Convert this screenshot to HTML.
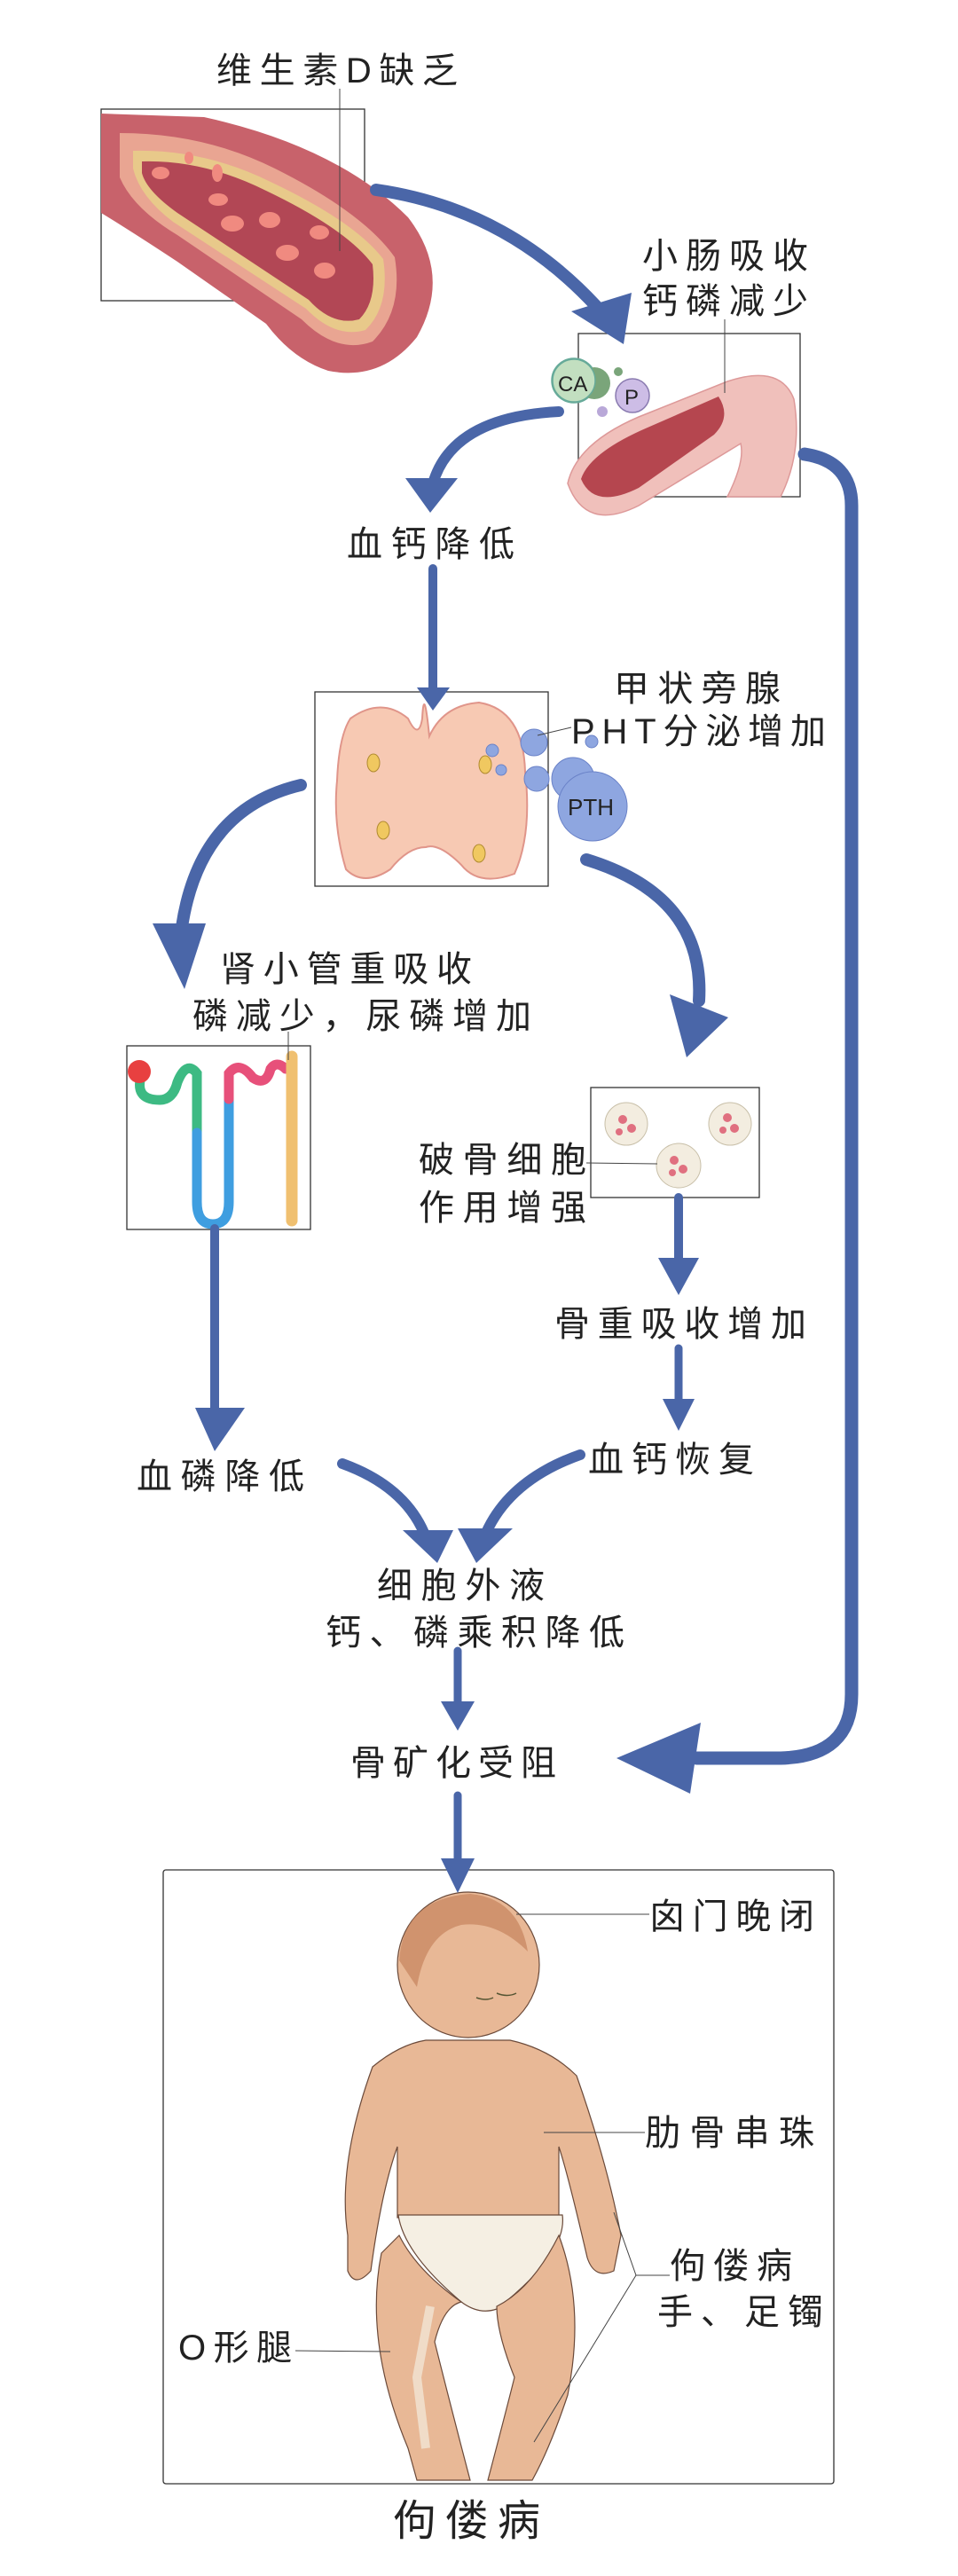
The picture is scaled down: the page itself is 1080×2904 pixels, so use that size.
<!DOCTYPE html>
<html><head><meta charset="utf-8"><style>
html,body{margin:0;padding:0;background:#fff}
svg{display:block}
text{font-family:"Liberation Sans","Noto Sans CJK SC",sans-serif;fill:#222}
</style></head><body>
<svg width="1080" height="2904" viewBox="0 0 1080 2904" xmlns="http://www.w3.org/2000/svg">
<rect width="1080" height="2904" fill="#fff"/>
<g fill="none" stroke="#333" stroke-width="1.3">
<rect x="114" y="123" width="297" height="216"/>
<rect x="652" y="376" width="250" height="184"/>
<rect x="355" y="780" width="263" height="219"/>
<rect x="143" y="1179" width="207" height="207"/>
<rect x="666" y="1226" width="190" height="124"/>
<rect x="184" y="2108" width="756" height="692" rx="3"/>
</g>
<!-- vessel -->
<path d="M114,128 L230,132 Q380,165 460,245 Q510,310 470,380 Q430,430 370,418 Q330,405 300,365 L200,295 Q150,262 114,240 Z" fill="#c8626b"/>
<path d="M135,150 Q230,150 310,190 Q410,240 445,290 Q455,350 420,385 Q380,400 340,360 L200,265 Q150,235 135,200 Z" fill="#e9a592"/>
<path d="M150,170 Q230,168 305,205 Q400,250 432,292 Q440,345 412,372 Q378,382 345,348 L195,250 Q158,222 150,190 Z" fill="#e8c98a"/>
<path d="M160,182 Q230,180 300,215 Q390,258 420,298 Q425,340 405,360 Q375,368 348,338 L200,240 Q165,215 160,195 Z" fill="#b24755"/>
<g fill="#f08a80"><ellipse cx="181" cy="195" rx="10" ry="7"/><ellipse cx="246" cy="225" rx="11" ry="7"/><ellipse cx="262" cy="252" rx="13" ry="9"/><ellipse cx="304" cy="248" rx="12" ry="9"/><ellipse cx="324" cy="285" rx="13" ry="9"/><ellipse cx="360" cy="262" rx="11" ry="8"/><ellipse cx="366" cy="305" rx="12" ry="9"/><ellipse cx="245" cy="195" rx="6" ry="10"/><ellipse cx="213" cy="178" rx="5" ry="7"/></g>
<!-- intestine -->
<path d="M640,545 Q650,500 720,470 L820,430 Q880,410 895,450 Q905,510 880,560 L820,560 Q840,520 835,500 L720,570 Q660,600 640,545Z" fill="#f0c0bb" stroke="#d99" stroke-width="1.5"/>
<path d="M655,540 Q665,510 730,482 L810,447 Q825,470 805,490 L720,550 Q670,575 655,540Z" fill="#b5464f"/>
<circle cx="647" cy="429" r="25" fill="#b9d8b5" stroke="#6a9" stroke-width="1.5"/>
<circle cx="670" cy="432" r="18" fill="#7aa57a"/>
<circle cx="647" cy="429" r="24" fill="#c2dfc0" stroke="#6a9" stroke-width="1.5"/>
<text x="629" y="441" font-size="24" fill="#333">CA</text>
<circle cx="713" cy="446" r="19" fill="#cdbde6" stroke="#8a7bb0" stroke-width="1.5"/>
<text x="704" y="456" font-size="24">P</text>
<circle cx="697" cy="419" r="5" fill="#7aa57a"/><circle cx="679" cy="464" r="6" fill="#b9a8d8"/>
<!-- thyroid -->
<path d="M395,810 Q430,785 460,810 Q472,835 476,810 Q478,770 484,830 Q500,795 540,792 Q590,800 592,870 Q600,940 580,985 Q540,1000 520,975 Q495,950 480,955 Q460,955 440,980 Q410,1000 390,980 Q375,930 380,880 Q382,830 395,810Z" fill="#f7c9b3" stroke="#e0958a" stroke-width="2"/>
<g fill="#f0c860" stroke="#b08a30"><ellipse cx="421" cy="860" rx="7" ry="10"/><ellipse cx="547" cy="862" rx="7" ry="10"/><ellipse cx="432" cy="936" rx="7" ry="10"/><ellipse cx="540" cy="962" rx="7" ry="10"/></g>
<g fill="#8ea6e0" stroke="#6a82c8"><circle cx="602" cy="837" r="15"/><circle cx="605" cy="878" r="14"/><circle cx="555" cy="846" r="7"/><circle cx="565" cy="868" r="6"/><circle cx="646" cy="878" r="24"/><circle cx="668" cy="909" r="39"/><circle cx="667" cy="836" r="7"/></g>
<text x="640" y="919" font-size="26">PTH</text>
<!-- kidney tubule -->
<g fill="none" stroke-linecap="round">
<path d="M160,1210 Q150,1240 180,1240 Q195,1240 200,1220 Q210,1195 222,1210 L222,1277" stroke="#3dba83" stroke-width="11"/>
<path d="M222,1277 L222,1355 Q222,1380 240,1380 Q258,1380 258,1355 L258,1239" stroke="#3f9ee0" stroke-width="11"/>
<path d="M258,1239 L258,1210 Q270,1195 285,1215 Q300,1225 305,1205 Q312,1195 322,1205" stroke="#e7507a" stroke-width="11"/>
<path d="M329,1191 L329,1376" stroke="#f0c070" stroke-width="13"/>
</g>
<circle cx="157" cy="1208" r="13" fill="#e84040"/>
<!-- osteoclasts -->
<g fill="#f3ede0" stroke="#c8bfa8"><circle cx="706" cy="1267" r="24"/><circle cx="823" cy="1267" r="24"/><circle cx="765" cy="1314" r="25"/></g>
<g fill="#e07080"><circle cx="702" cy="1262" r="5"/><circle cx="712" cy="1272" r="5"/><circle cx="698" cy="1276" r="4"/><circle cx="820" cy="1260" r="5"/><circle cx="828" cy="1272" r="5"/><circle cx="815" cy="1274" r="4"/><circle cx="760" cy="1308" r="5"/><circle cx="770" cy="1318" r="5"/><circle cx="758" cy="1322" r="4"/></g>
<!-- baby -->
<g stroke="#6b4a3a" stroke-width="1.2">
<path d="M392,2520 Q380,2440 420,2330 Q450,2305 480,2300 L575,2300 Q620,2310 650,2340 Q685,2440 700,2520 L692,2560 Q670,2570 662,2545 Q640,2450 630,2420 L630,2500 L448,2500 L448,2420 Q430,2470 418,2560 Q400,2580 392,2560Z" fill="#e8b896"/>
<path d="M449,2497 L634,2497 Q640,2540 560,2603 Q540,2610 520,2595 Q455,2540 449,2497Z" fill="#f5efe3"/>
<path d="M430,2540 Q410,2640 460,2760 L470,2796 L530,2796 Q510,2720 490,2640 Q500,2600 520,2595 Q470,2560 450,2520Z" fill="#e8b896"/>
<path d="M560,2600 Q600,2580 630,2520 Q660,2600 640,2700 Q620,2760 600,2796 L550,2796 Q570,2720 580,2680 Q560,2630 560,2600Z" fill="#e8b896"/>
<ellipse cx="528" cy="2215" rx="80" ry="82" fill="#e8b896"/>
</g>
<path d="M450,2210 Q455,2140 530,2135 Q585,2140 595,2200 Q560,2165 520,2170 Q480,2180 470,2240 Z" fill="#c98a64" opacity="0.8"/>
<path d="M485,2600 L470,2680 L480,2760" stroke="#f0dcc8" stroke-width="10" fill="none"/>
<path d="M537,2252 Q548,2256 556,2252 M560,2247 Q572,2252 582,2247" stroke="#553" fill="none" stroke-width="1.5"/>
<!-- leader lines -->
<g stroke="#444" stroke-width="1" fill="none">
<path d="M383,100 L383,283"/><path d="M817,360 L817,443"/><path d="M644,820 L606,829"/><path d="M325,1163 L325,1195"/><path d="M661,1311 L741,1312"/>
<path d="M582,2158 L732,2158"/><path d="M613,2404 L727,2404"/><path d="M755,2565 L717,2565 L692,2494 M717,2565 L602,2753"/><path d="M440,2651 L333,2650"/>
</g>
<!-- arrows -->
<g fill="none" stroke="#4a66a8" stroke-linecap="round">
<path d="M424,214 Q570,235 672,345" stroke-width="14"/>
<path d="M630,464 Q510,470 488,545" stroke-width="12"/>
<path d="M488,641 L488,778" stroke-width="10"/>
<path d="M339,885 Q225,912 205,1045" stroke-width="14"/>
<path d="M661,969 Q795,1010 788,1128" stroke-width="14"/>
<path d="M765,1350 L765,1420" stroke-width="10"/>
<path d="M765,1520 L765,1580" stroke-width="9"/>
<path d="M242,1385 L242,1590" stroke-width="10"/>
<path d="M386,1650 Q455,1675 478,1728" stroke-width="12"/>
<path d="M654,1640 Q575,1668 548,1728" stroke-width="12"/>
<path d="M516,1861 L516,1920" stroke-width="9"/>
<path d="M516,2024 L516,2097" stroke-width="9"/>
<path d="M907,512 Q960,520 960,570 L960,1910 Q960,1980 880,1982 L785,1982" stroke-width="15"/>
</g>
<g fill="#4a66a8">
<polygon points="703,388 644,351 712,330"/>
<polygon points="485,578 457,539 516,539"/>
<polygon points="488,801 470,775 507,775"/>
<polygon points="208,1115 172,1041 232,1041"/>
<polygon points="774,1192 755,1121 821,1147"/>
<polygon points="765,1460 742,1418 788,1418"/>
<polygon points="765,1613 747,1577 783,1577"/>
<polygon points="242,1636 220,1587 276,1587"/>
<polygon points="493,1762 454,1725 511,1725"/>
<polygon points="537,1762 516,1723 578,1723"/>
<polygon points="516,1951 497,1918 535,1918"/>
<polygon points="516,2134 497,2095 535,2095"/>
<polygon points="695,1982 790,1942 778,2022"/>
</g>
<!-- labels -->
<g font-size="40">
<text x="244" y="93" textLength="272" lengthAdjust="spacing">维生素D缺乏</text>
<text x="724" y="302" textLength="187" lengthAdjust="spacing">小肠吸收</text>
<text x="724" y="353" textLength="187" lengthAdjust="spacing">钙磷减少</text>
<text x="391" y="627" textLength="189" lengthAdjust="spacing">血钙降低</text>
<text x="692" y="790" textLength="188" lengthAdjust="spacing">甲状旁腺</text>
<text x="644" y="838" textLength="287" lengthAdjust="spacing">PHT分泌增加</text>
<text x="248" y="1106" textLength="284" lengthAdjust="spacing">肾小管重吸收</text>
<text x="217" y="1159" textLength="382" lengthAdjust="spacing">磷减少，尿磷增加</text>
<text x="472" y="1321" textLength="189" lengthAdjust="spacing">破骨细胞</text>
<text x="472" y="1375" textLength="189" lengthAdjust="spacing">作用增强</text>
<text x="625" y="1506" textLength="284" lengthAdjust="spacing">骨重吸收增加</text>
<text x="663" y="1659" textLength="187" lengthAdjust="spacing">血钙恢复</text>
<text x="154" y="1678" textLength="189" lengthAdjust="spacing">血磷降低</text>
<text x="425" y="1801" textLength="189" lengthAdjust="spacing">细胞外液</text>
<text x="367" y="1854" textLength="337" lengthAdjust="spacing">钙、磷乘积降低</text>
<text x="395" y="2001" textLength="232" lengthAdjust="spacing">骨矿化受阻</text>
<text x="732" y="2174" textLength="186" lengthAdjust="spacing">囟门晚闭</text>
<text x="727" y="2418" textLength="191" lengthAdjust="spacing">肋骨串珠</text>
<text x="755" y="2568" textLength="138" lengthAdjust="spacing">佝偻病</text>
<text x="741" y="2620" textLength="187" lengthAdjust="spacing">手、足镯</text>
<text x="201" y="2660" textLength="128" lengthAdjust="spacing">O形腿</text>
<text x="443" y="2858" font-size="48" textLength="166" lengthAdjust="spacing">佝偻病</text>
</g>
</svg>
</body></html>
